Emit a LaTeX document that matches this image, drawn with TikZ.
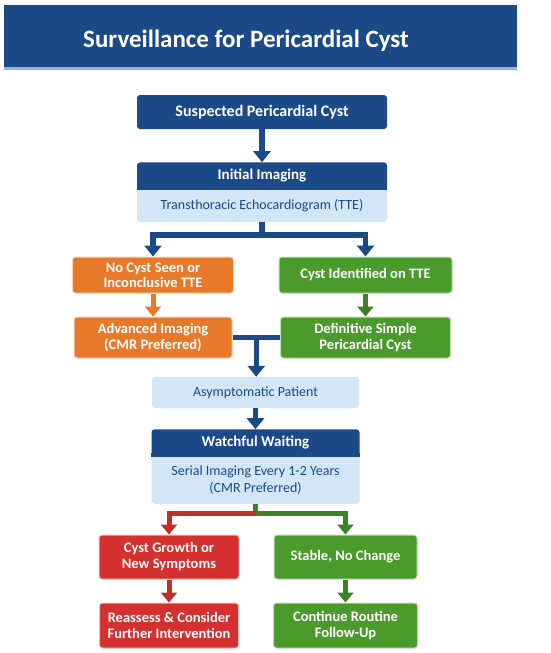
\documentclass[tikz,border=0pt]{standalone}
\usepackage{fontspec}
\setmainfont{Carlito}
\usepackage{xcolor}
\definecolor{Navy}{HTML}{1C4A89}
\definecolor{PaleBlue}{HTML}{D3E6F8}
\definecolor{BandLine}{HTML}{8DB8E6}
\definecolor{recnaranja}{HTML}{E8792B}
\definecolor{recverde}{HTML}{4A9A2C}
\definecolor{recrojo}{HTML}{D3302F}
\definecolor{flechaverde}{HTML}{3E8128}
\definecolor{flecharoja}{HTML}{C0302B}
\usepackage{tikz}
\usetikzlibrary{arrows.meta,positioning,calc}
\tikzset{
  titulo/.style   = {font=\bfseries\fontsize{25}{30}\selectfont, text=white},
  caja/.style     = {rounded corners=3pt, align=center, text=white, inner sep=2pt,
                     font=\bfseries\fontsize{14.5}{16}\selectfont},
  cabecera/.style = {caja, fill=Navy, minimum height=27pt,
                     font=\bfseries\fontsize{15}{17}\selectfont},
  cuerpo/.style   = {caja, fill=PaleBlue, text=Navy,
                     font=\fontsize{14}{16.5}\selectfont},
  cajanar/.style  = {caja, fill=recnaranja, draw=recnaranja!35, line width=1pt},
  cajaver/.style  = {caja, fill=recverde, draw=recverde!35, line width=1pt},
  cajaroj/.style  = {caja, fill=recrojo, draw=recrojo!35, line width=1pt},
  linea/.style    = {line width=5.5pt, draw=Navy},
  flecha/.style   = {-{Triangle[length=11pt,width=17pt]}, line width=5.5pt, draw=Navy},
  flechan/.style  = {-{Triangle[length=10pt,width=16pt]}, line width=5pt, draw=recnaranja},
  flechav/.style  = {-{Triangle[length=10pt,width=16pt]}, line width=5pt, draw=flechaverde},
  flechar/.style  = {-{Triangle[length=10pt,width=16pt]}, line width=5pt, draw=flecharoja},
}
\begin{document}
\begin{tikzpicture}[x=1pt, y=1pt]
  \useasboundingbox (0,0) rectangle (550,-653);
  \fill[Navy] (4,-5) rectangle (517,-67);
  \fill[BandLine] (4,-67) rectangle (517,-70);
  \node[titulo] (tit) at (246,-41) {Surveillance for Pericardial Cyst};

  \node[cabecera, minimum width=250pt, minimum height=34pt, font=\bfseries\fontsize{16}{18}\selectfont] (sus) at (262,-112) {Suspected Pericardial Cyst};
  \node[cabecera, minimum width=250pt, below=33pt of sus] (ini) {Initial Imaging};
  \node[cuerpo, minimum width=250pt, minimum height=32pt, below=0pt of ini] (tte) {Transthoracic Echocardiogram (TTE)};
  \fill[Navy] ([yshift=4pt]ini.south west) rectangle (ini.south east);
  \fill[PaleBlue] (tte.north west) rectangle ([yshift=-4pt]tte.north east);

  \node[cajanar, minimum width=161pt, minimum height=36pt, font=\bfseries\fontsize{14.5}{15}\selectfont] (noc) at (153,-275) {No Cyst Seen or\\Inconclusive TTE};
  \node[cajaver, minimum width=173pt, minimum height=36pt] (cid) at (365.5,-275) {Cyst Identified on TTE};
  \node[cajanar, minimum width=158pt, minimum height=41pt, below=23pt of noc] (adv) {Advanced Imaging\\(CMR Preferred)};
  \node[cajaver, minimum width=170pt, minimum height=41pt, below=23pt of cid] (def) {Definitive Simple\\Pericardial Cyst};

  \node[cuerpo, minimum width=207pt, minimum height=31pt] (asy) at (255.5,-392.5) {Asymptomatic Patient};
  \node[cabecera, minimum width=208pt, below=21pt of asy] (ww) {Watchful Waiting};
  \node[cuerpo, minimum width=208pt, minimum height=47pt, below=0pt of ww] (ser) {Serial Imaging Every 1-2 Years\\(CMR Preferred)};
  \fill[Navy] ([yshift=4pt]ww.south west) rectangle (ww.south east);
  \fill[PaleBlue] (ser.north west) rectangle ([yshift=-4pt]ser.north east);

  \node[cajaroj, minimum width=140pt, minimum height=44pt] (gro) at (169,-557) {Cyst Growth or\\New Symptoms};
  \node[cajaver, minimum width=143pt, minimum height=44pt] (sta) at (345.5,-557) {Stable, No Change};
  \node[cajaroj, minimum width=139pt, minimum height=45pt, below=23pt of gro] (rea) {Reassess \& Consider\\Further Intervention};
  \node[cajaver, minimum width=144pt, minimum height=45pt, below=23pt of sta] (fol) {Continue Routine\\Follow-Up};

  \draw[flecha] (sus) -- (ini);
  \coordinate[below=13pt of tte] (r1);
  \draw[linea] (tte) -- (r1);
  \draw[flecha] (r1) -| (noc);
  \draw[flecha] (r1) -| (cid);
  \draw[flechan] (noc) -- (adv);
  \draw[flechav] (cid) -- (def);
  \draw[linea] (adv) -- (def);
  \coordinate (r2) at ($(adv.east)!0.5!(def.west)$);
  \draw[flecha] (r2) -- (r2 |- asy.north);
  \draw[flecha] (asy) -- (ww);
  \coordinate[below=9pt of ser] (r3);
  \draw[line width=5pt, draw=flechaverde] (ser) -- (r3);
  \draw[flechar] (r3) -| (gro);
  \draw[flechav] (r3) -| (sta);
  \draw[flechar] (gro) -- (rea);
  \draw[flechav] (sta) -- (fol);
\end{tikzpicture}
\end{document}
